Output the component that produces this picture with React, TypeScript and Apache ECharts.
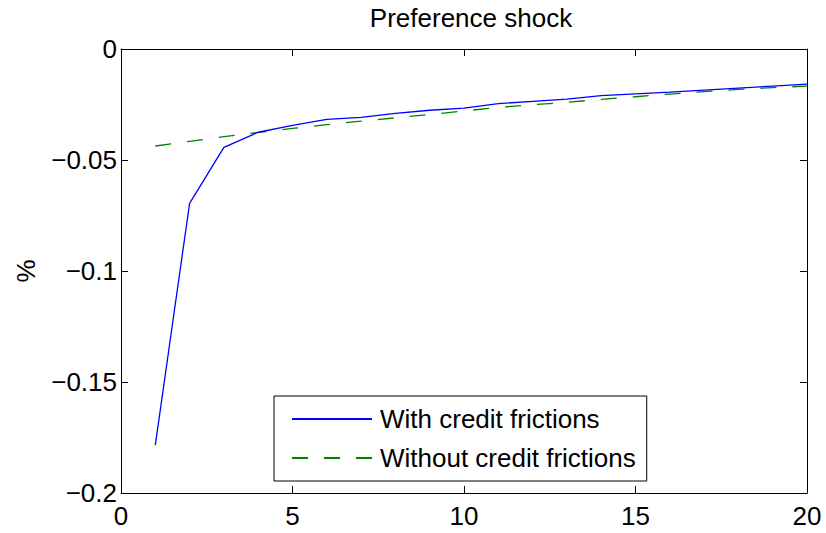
import React, { useEffect, useRef } from "react";
import * as echarts from "echarts";

const periods = [1, 2, 3, 4, 5, 6, 7, 8, 9, 10, 11, 12, 13, 14, 15, 16, 17, 18, 19, 20];
const withFrictions = [
  -0.1784, -0.0695, -0.0443, -0.0375, -0.0344, -0.0317, -0.0308, -0.029, -0.0276, -0.0266,
  -0.0246, -0.0236, -0.0226, -0.021, -0.0202, -0.0194, -0.0185, -0.0176, -0.0167, -0.0158,
];
const withoutFrictions = [
  -0.0437, -0.0416, -0.0395, -0.0376, -0.0358, -0.0341, -0.0325, -0.031, -0.0295, -0.0279,
  -0.0263, -0.0251, -0.024, -0.0227, -0.0215, -0.0203, -0.0192, -0.0182, -0.0174, -0.0167,
];
const seriesNames = ["With credit frictions", "Without credit frictions"];
const titleText = "Preference shock";
const yAxisName = "%";

const FONT = "'Liberation Sans', Arial, Helvetica, sans-serif";
const FS = 26;

const fmt = (v: number) => {
  const r = parseFloat(v.toFixed(3));
  if (r === 0) return "0";
  return String(r).replace("-", "\u2212");
};

export default function App() {
  const ref = useRef<HTMLDivElement>(null);
  useEffect(() => {
    if (!ref.current) return;
    const chart = echarts.init(ref.current, undefined, { renderer: "svg" });
    const axisLine = { show: true, onZero: false, lineStyle: { color: "#000", width: 1 } };
    const tick = { show: true, inside: true, length: 7, lineStyle: { color: "#000", width: 1 } };
    chart.setOption({
      animation: false,
      backgroundColor: "#fff",
      title: {
        text: titleText,
        left: 471,
        top: 5,
        textAlign: "center",
        padding: 0,
        textStyle: { fontFamily: FONT, fontSize: FS, fontWeight: "normal", color: "#000" },
      },
      grid: { left: 121, right: 19, top: 49, bottom: 40, containLabel: false },
      legend: {
        orient: "vertical",
        left: 274,
        top: 396,
        padding: [10, 11, 10, 17],
        itemWidth: 80,
        itemHeight: 14,
        itemGap: 13,
        backgroundColor: "#fff",
        borderColor: "#000",
        borderWidth: 1,
        borderRadius: 0,
        itemStyle: { opacity: 0 },
        textStyle: { fontFamily: FONT, fontSize: FS, color: "#000", padding: [0, 0, 0, 3] },
        data: seriesNames,
      },
      xAxis: [
        {
          type: "value",
          position: "bottom",
          min: 0,
          max: 20,
          interval: 5,
          axisLine,
          axisTick: tick,
          splitLine: { show: false },
          axisLabel: { fontFamily: FONT, fontSize: FS, color: "#000", margin: 10, formatter: fmt },
        },
        {
          type: "value",
          position: "top",
          min: 0,
          max: 20,
          interval: 5,
          axisLine,
          axisTick: tick,
          splitLine: { show: false },
          axisLabel: { show: false },
        },
      ],
      yAxis: [
        {
          type: "value",
          position: "left",
          min: -0.2,
          max: 0,
          interval: 0.05,
          name: yAxisName,
          nameLocation: "middle",
          nameGap: 82,
          nameRotate: 90,
          nameTextStyle: { fontFamily: FONT, fontSize: FS, color: "#000" },
          axisLine,
          axisTick: tick,
          splitLine: { show: false },
          axisLabel: { fontFamily: FONT, fontSize: FS, color: "#000", margin: 4, formatter: fmt },
        },
        {
          type: "value",
          position: "right",
          min: -0.2,
          max: 0,
          interval: 0.05,
          axisLine,
          axisTick: tick,
          splitLine: { show: false },
          axisLabel: { show: false },
        },
      ],
      series: [
        {
          name: seriesNames[0],
          type: "line",
          xAxisIndex: 0,
          yAxisIndex: 0,
          symbol: "none",
          showSymbol: false,
          data: periods.map((p, i) => [p, withFrictions[i]]),
          lineStyle: { color: "#0000ff", width: 1.3 },
          itemStyle: { color: "#0000ff" },
          z: 3,
        },
        {
          name: seriesNames[1],
          type: "line",
          xAxisIndex: 0,
          yAxisIndex: 0,
          symbol: "none",
          showSymbol: false,
          data: periods.map((p, i) => [p, withoutFrictions[i]]),
          lineStyle: { color: "#008000", width: 1.3, type: [16, 16] },
          itemStyle: { color: "#008000" },
          z: 2,
        },
      ],
    });
    return () => chart.dispose();
  }, []);
  return (
    <div
      ref={ref}
      style={{ position: "fixed", left: 0, top: 0, width: 826, height: 533, background: "#fff" }}
    />
  );
}
